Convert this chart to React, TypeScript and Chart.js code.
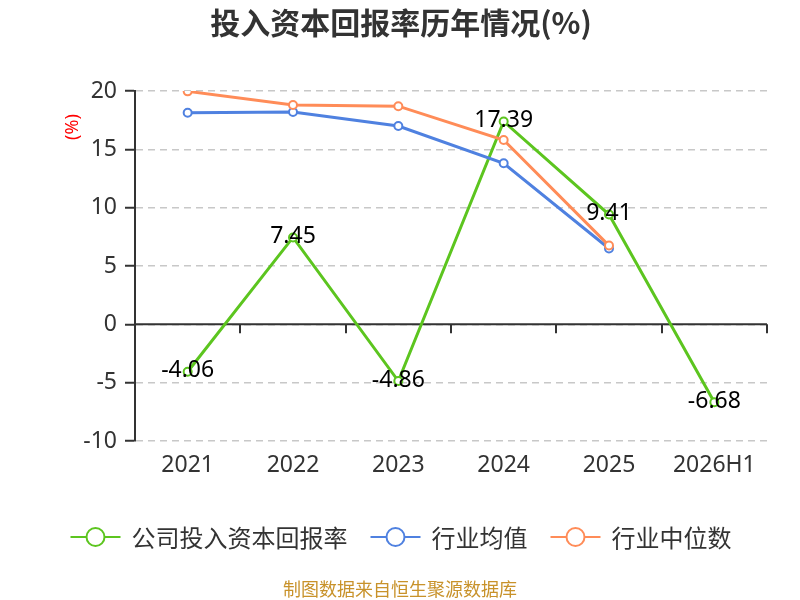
import { useEffect, useRef } from "react"
import { Chart, registerables, Plugin } from "chart.js"

Chart.register(...registerables)

const years = ["2021", "2022", "2023", "2024", "2025", "2026H1"]
const companyRoic = [-4.06, 7.45, -4.86, 17.39, 9.41, -6.68]
const industryAvg = [18.14, 18.2, 17.0, 13.8, 6.5]
const industryMedian = [19.97, 18.8, 18.7, 15.8, 6.75]
const yTicks = [-10, -5, 0, 5, 10, 15, 20]

const GREEN = "#5cc51f"
const BLUE = "#4f81e0"
const ORANGE = "#ff8c58"
const FONT = '"Noto Sans", "Noto Sans CJK SC", sans-serif'
const CJK = '"Noto Sans CJK SC", "Noto Sans", sans-serif'

const legendItems = [
  { label: "公司投入资本回报率", color: GREEN },
  { label: "行业均值", color: BLUE },
  { label: "行业中位数", color: ORANGE },
]

// title, axis unit, legend, source line and the zero axis with band ticks
const decorations: Plugin<"line"> = {
  id: "decorations",
  beforeDatasetsDraw(chart) {
    const { ctx, chartArea, scales } = chart
    const x = scales.x
    const y0 = scales.y.getPixelForValue(0)
    const band = x.getPixelForValue(1) - x.getPixelForValue(0)
    ctx.save()
    ctx.strokeStyle = "#333"
    ctx.lineWidth = 2
    ctx.beginPath()
    ctx.moveTo(chartArea.left, y0)
    ctx.lineTo(chartArea.right, y0)
    for (let i = 1; i <= years.length; i++) {
      const px = Math.round(x.getPixelForValue(i) - band / 2)
      ctx.moveTo(px, y0)
      ctx.lineTo(px, y0 + 9)
    }
    ctx.stroke()
    ctx.restore()
  },
  afterDatasetsDraw(chart) {
    const { ctx } = chart
    const meta = chart.getDatasetMeta(0)
    ctx.save()
    ctx.fillStyle = "#000"
    ctx.font = `23px ${FONT}`
    ctx.textAlign = "center"
    ctx.textBaseline = "middle"
    meta.data.forEach((pt, i) => {
      ctx.fillText(String(companyRoic[i]), pt.x, pt.y - 1)
    })
    ctx.restore()
  },
  afterDraw(chart) {
    const { ctx } = chart
    ctx.save()
    // title
    ctx.fillStyle = "#333"
    ctx.font = `bold 30px ${CJK}`
    ctx.textAlign = "center"
    ctx.textBaseline = "middle"
    ctx.fillText("投入资本回报率历年情况(%)", 401, 23)

    // y unit
    ctx.save()
    ctx.translate(73, 127)
    ctx.rotate(-Math.PI / 2)
    ctx.fillStyle = "#f00"
    ctx.font = `18px ${FONT}`
    ctx.fillText("(%)", 0, 0)
    ctx.restore()

    // legend
    ctx.font = `24px ${CJK}`
    ctx.textAlign = "left"
    const widths = legendItems.map((it) => 61 + ctx.measureText(it.label).width)
    const total = widths.reduce((a, b) => a + b, 0) + 23 * (legendItems.length - 1)
    let lx = 401 - total / 2
    const ly = 537
    legendItems.forEach((it, i) => {
      ctx.strokeStyle = it.color
      ctx.lineWidth = 2
      ctx.beginPath()
      ctx.moveTo(lx, ly)
      ctx.lineTo(lx + 50, ly)
      ctx.stroke()
      ctx.beginPath()
      ctx.arc(lx + 25, ly, 9, 0, Math.PI * 2)
      ctx.fillStyle = "#fff"
      ctx.fill()
      ctx.stroke()
      ctx.fillStyle = "#333"
      ctx.fillText(it.label, lx + 61, ly + 1)
      lx += widths[i] + 23
    })

    // source
    ctx.textAlign = "center"
    ctx.fillStyle = "#c8922a"
    ctx.font = `18px ${CJK}`
    ctx.fillText("制图数据来自恒生聚源数据库", 400, 589)
    ctx.restore()
  },
}

function series(label: string, data: number[], color: string, order: number) {
  return {
    label,
    data,
    order,
    borderColor: color,
    borderWidth: 3,
    pointRadius: 4,
    pointHoverRadius: 4,
    pointBorderWidth: 2,
    pointBorderColor: color,
    pointBackgroundColor: "#fff",
    tension: 0,
  }
}

export default function App() {
  const chartRef = useRef<HTMLCanvasElement>(null)
  const chartInstance = useRef<Chart | null>(null)

  useEffect(() => {
    if (!chartRef.current) return
    if (chartInstance.current) chartInstance.current.destroy()
    const ctx = chartRef.current.getContext("2d")
    if (!ctx) return

    chartInstance.current = new Chart(ctx, {
      type: "line",
      data: {
        labels: years,
        datasets: [
          series("公司投入资本回报率", companyRoic, GREEN, 3),
          series("行业均值", industryAvg, BLUE, 2),
          series("行业中位数", industryMedian, ORANGE, 1),
        ],
      },
      options: {
        responsive: false,
        animation: false,
        layout: { padding: { left: 75, right: 33, top: 91, bottom: 109 } },
        plugins: {
          legend: { display: false },
          title: { display: false },
          tooltip: { enabled: false },
        },
        scales: {
          x: {
            offset: true,
            grid: { display: false, drawTicks: false },
            border: { display: false },
            ticks: { color: "#333", font: { size: 23, family: FONT }, padding: 11 },
            afterFit: (s) => {
              s.height = 50
            },
          },
          y: {
            min: yTicks[0],
            max: yTicks[yTicks.length - 1],
            afterBuildTicks: (s) => {
              s.ticks = yTicks.map((v) => ({ value: v }))
            },
            ticks: { color: "#333", font: { size: 23, family: FONT }, padding: 8 },
            grid: {
              color: "#c8c8c8",
              lineWidth: 1.5,
              tickColor: "#333",
              tickLength: 10,
              tickWidth: 2,
            },
            border: { display: true, color: "#333", width: 2, dash: [7, 5] },
            afterFit: (s) => {
              s.width = 60
            },
          },
        },
      },
      plugins: [decorations],
    })

    return () => {
      if (chartInstance.current) {
        chartInstance.current.destroy()
        chartInstance.current = null
      }
    }
  }, [])

  return (
    <div style={{ position: "fixed", left: 0, top: 0, width: 800, height: 600, background: "#fff" }}>
      <canvas ref={chartRef} width={800} height={600} style={{ width: 800, height: 600 }} />
    </div>
  )
}
